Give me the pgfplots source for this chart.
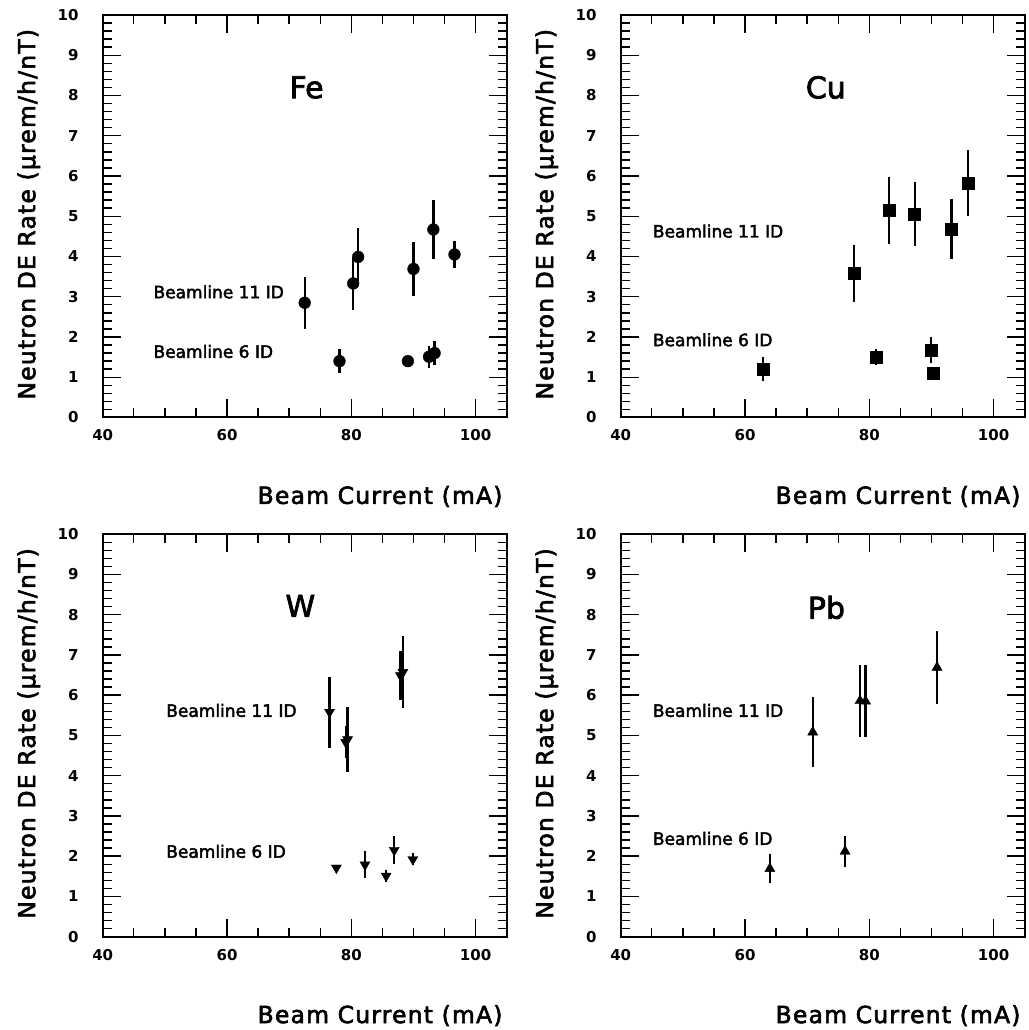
\documentclass[border=0pt]{standalone}
\usepackage{fontspec}
\setmainfont{DejaVu Sans}
\newfontfamily\hv{DejaVu Sans}[FakeBold=2.5]
\newfontfamily\hvs{DejaVu Sans}[FakeBold=2.5, LetterSpace=5]
\usepackage{pgfplots}
\pgfplotsset{compat=1.18}
\usetikzlibrary{calc}

\newcommand{\lblfont}{\hvs\fontsize{23.5}{24}\selectfont}
\newcommand{\bmfont}{\hv\fontsize{17}{18}\selectfont}
\newcommand{\ttlfont}{\hv\fontsize{30}{31}\selectfont}

\pgfplotsset{
  panel/.style={
    scale only axis, width=404pt, height=402.5pt,
    xmin=40, xmax=105, ymin=0, ymax=10,
    xtick={40,60,80,100}, minor xtick={45,50,55,65,70,75,85,90,95},
    ytick={0,1,...,10}, minor y tick num=4,
    xtick pos=both, ytick pos=both, ticklabel pos=left,
    tick align=inside, major tick length=18pt, minor tick length=9pt,
    axis line style={line width=2pt},
    every tick/.style={black, line width=1.4pt},
    tick label style={font=\fontsize{15}{15}\selectfont\bfseries, inner sep=0pt},
    /pgf/number format/assume math mode=true,
    xticklabel style={anchor=north, yshift=-12pt},
    yticklabel style={anchor=east, xshift=-24pt},
    clip=false,
  },
  dat/.style={only marks, black, mark options={fill=black, draw=black},
    error bars/y dir=both, error bars/y explicit, error bars/error mark=none,
    error bars/error bar style={line width=2.3pt, black}},
}

\newcommand{\panellabels}{%
  \node[anchor=east, inner sep=0pt, font=\lblfont] at ($(rel axis cs:1,0)+(-4pt,-79pt)$) {Beam Current (mA)};
  \node[rotate=90, anchor=center, inner sep=0pt, font=\lblfont] at ($(rel axis cs:0,0.5)+(-74pt,2pt)$) {Neutron DE Rate (μrem/h/nT)};
}

\begin{document}
\begin{tikzpicture}
\useasboundingbox (0,0) rectangle (1028pt,1030pt);

% Fe
\begin{axis}[panel, at={(102.7pt,612.5pt)}, anchor=south west]
\addplot[dat, mark=*, mark size=5.9pt] coordinates {
 (72.5,2.85) +- (0,0.65)
 (80.3,3.33) +- (0,0.65)
 (81.1,3.99) +- (0,0.73)
 (90.0,3.69) +- (0,0.67)
 (93.2,4.67) +- (0,0.74)
 (96.6,4.05) +- (0,0.33)
};
\addplot[dat, mark=*, mark size=5.9pt] coordinates {
 (78.1,1.40) +- (0,0.30)
 (89.1,1.40) +- (0,0.10)
 (92.5,1.51) +- (0,0.27)
 (93.4,1.60) +- (0,0.30)
};
\node[anchor=west, inner sep=0pt, font=\bmfont] at (axis cs:48.15,3.12) {Beamline 11 ID};
\node[anchor=west, inner sep=0pt, font=\bmfont] at (axis cs:48.15,1.64) {Beamline 6 ID};
\node[font=\ttlfont, inner sep=0pt] at (axis cs:72.8,8.2) {Fe};
\panellabels
\end{axis}

% Cu
\begin{axis}[panel, at={(620.7pt,612.5pt)}, anchor=south west]
\addplot[dat, mark=square*, mark size=6pt] coordinates {
 (77.5,3.58) +- (0,0.71)
 (83.2,5.15) +- (0,0.83)
 (87.3,5.06) +- (0,0.80)
 (93.2,4.69) +- (0,0.75)
 (95.9,5.83) +- (0,0.82)
};
\addplot[dat, mark=square*, mark size=6pt] coordinates {
 (62.9,1.21) +- (0,0.30)
 (81.1,1.51) +- (0,0.20)
 (89.9,1.67) +- (0,0.32)
 (90.3,1.09) +- (0,0.05)
};
\node[anchor=west, inner sep=0pt, font=\bmfont] at (axis cs:45.15,4.63) {Beamline 11 ID};
\node[anchor=west, inner sep=0pt, font=\bmfont] at (axis cs:45.15,1.93) {Beamline 6 ID};
\node[font=\ttlfont, inner sep=0pt] at (axis cs:73.0,8.2) {Cu};
\panellabels
\end{axis}

% W
\begin{axis}[panel, at={(102.7pt,93.3pt)}, anchor=south west]
\addplot[dat, mark=triangle*, mark size=5.8pt, mark options={rotate=180}] coordinates {
 (76.5,5.58) +- (0,0.88)
 (79.1,4.83) +- (0,0.40)
 (79.4,4.90) +- (0,0.80)
 (87.9,6.49) +- (0,0.62)
 (88.3,6.57) +- (0,0.90)
};
\addplot[dat, mark=triangle*, mark size=5.8pt, mark options={rotate=180}] coordinates {
 (77.6,1.71) +- (0,0.05)
 (82.2,1.79) +- (0,0.33)
 (85.6,1.51) +- (0,0.15)
 (86.9,2.15) +- (0,0.35)
 (89.9,1.92) +- (0,0.15)
};
\node[anchor=west, inner sep=0pt, font=\bmfont] at (axis cs:50.2,5.62) {Beamline 11 ID};
\node[anchor=west, inner sep=0pt, font=\bmfont] at (axis cs:50.2,2.12) {Beamline 6 ID};
\node[font=\ttlfont, inner sep=0pt] at (axis cs:71.8,8.22) {W};
\panellabels
\end{axis}

% Pb
\begin{axis}[panel, at={(620.7pt,93.3pt)}, anchor=south west]
\addplot[dat, mark=triangle*, mark size=5.8pt] coordinates {
 (70.9,5.08) +- (0,0.87)
 (78.5,5.86) +- (0,0.90)
 (79.4,5.85) +- (0,0.90)
 (90.9,6.69) +- (0,0.90)
};
\addplot[dat, mark=triangle*, mark size=5.8pt] coordinates {
 (64.0,1.69) +- (0,0.36)
 (76.1,2.12) +- (0,0.38)
};
\node[anchor=west, inner sep=0pt, font=\bmfont] at (axis cs:45.15,5.62) {Beamline 11 ID};
\node[anchor=west, inner sep=0pt, font=\bmfont] at (axis cs:45.15,2.44) {Beamline 6 ID};
\node[font=\ttlfont, inner sep=0pt] at (axis cs:73.1,8.18) {Pb};
\panellabels
\end{axis}
\end{tikzpicture}
\end{document}
